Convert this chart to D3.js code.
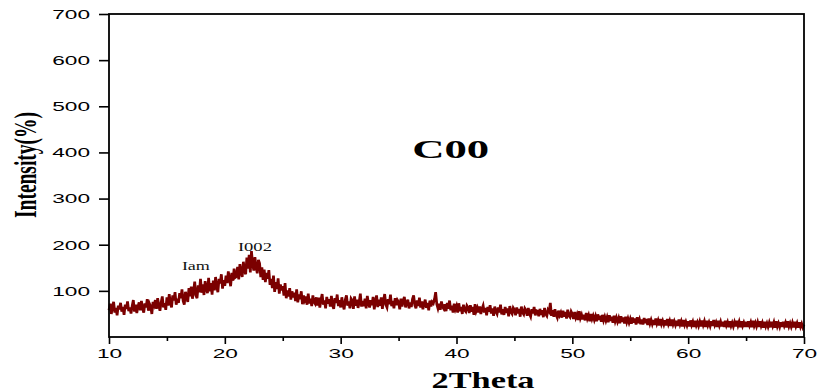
<!DOCTYPE html>
<html>
<head>
<meta charset="utf-8">
<script src="https://cdn.jsdelivr.net/npm/d3@7"></script>
<style>
  body { margin: 0; background: #fff; }
  svg { display: block; }
  .tick text { font-family: "Liberation Sans", Arial, sans-serif; font-size: 13.5px; fill: #000; }
</style>
</head>
<body>
<div id="chart"></div>
<script>
var svgWidth = 818;
var svgHeight = 392;

// plot frame in page pixels
var margin = { top: 14, right: 14, bottom: 55, left: 109 };
var width = svgWidth - margin.left - margin.right;
var height = svgHeight - margin.top - margin.bottom;

// sampling grid of the scan
var twoThetaStart = 10;
var twoThetaStep = 0.1;

// intensity, one row per degree (x.0 .. x.9)
var intensity = [
  58,72,50,66,76,53,63,47,68,60,
  74,55,65,48,70,61,77,56,64,51,
  67,80,55,70,52,66,75,58,78,62,
  53,73,64,82,57,72,66,50,76,69,
  80,61,84,68,57,75,88,64,73,59,
  86,68,93,74,64,90,79,97,70,83,
  74,95,84,103,78,70,98,88,76,106,
  88,109,83,99,120,90,84,112,97,126,
  96,114,91,121,105,95,128,99,117,92,
  122,101,130,109,97,126,116,136,105,123,
  111,133,117,142,126,110,139,122,148,129,
  131,152,125,158,141,130,163,143,136,172,
  148,178,140,186,158,144,173,151,138,167,
  160,130,151,124,146,119,139,126,145,113,
  126,106,133,98,119,104,127,94,114,101,
  110,90,117,84,101,88,106,81,99,86,
  96,78,103,75,92,82,99,71,90,80,
  88,70,94,73,83,67,90,76,72,86,
  68,85,64,81,93,70,79,62,87,72,
  82,66,89,69,61,84,74,92,67,80,
  64,86,69,60,81,90,68,77,62,83,
  79,61,88,68,81,63,76,94,66,78,
  67,83,62,89,73,64,80,69,87,60,
  77,90,65,81,68,86,61,79,93,70,
  64,82,71,92,67,78,62,84,69,80,
  76,60,83,66,79,87,64,74,81,62,
  75,65,82,90,69,62,79,67,85,64,
  77,60,72,81,63,74,58,79,66,76,
  73,82,97,71,62,72,59,77,65,61,
  71,56,74,61,79,58,68,53,72,60,
  67,53,73,56,65,50,70,58,55,68,
  64,52,69,55,65,48,71,56,63,53,
  66,50,61,68,53,63,47,65,55,69,
  51,62,46,66,55,50,64,53,70,49,
  60,48,65,52,62,45,67,54,50,63,
  59,47,64,51,61,44,66,53,49,62,
  58,46,63,50,44,60,51,65,47,57,
  56,45,61,48,58,43,63,50,46,59,
  55,74,46,58,44,60,48,42,57,47,
  53,42,57,44,54,40,59,46,43,55,
  50,39,54,42,49,37,56,41,48,38,
  48,36,52,40,47,34,50,39,46,37,
  45,34,49,37,46,33,48,36,44,35,
  43,32,47,35,44,31,46,34,42,33,
  41,30,45,33,42,29,44,32,40,31,
  39,29,42,31,40,27,43,30,38,28,
  38,27,41,30,39,26,40,29,37,28,
  37,26,40,29,36,25,39,28,35,27,
  36,25,39,28,35,24,38,27,34,26,
  35,24,38,27,34,23,37,26,33,25,
  34,23,36,26,33,22,35,25,32,24,
  33,23,36,26,34,22,35,25,32,24,
  34,24,37,26,32,22,35,25,33,23,
  33,22,35,25,32,21,34,24,31,23,
  32,23,35,25,33,21,34,24,31,22,
  33,22,34,25,32,21,35,24,31,23,
  32,22,34,24,31,20,33,23,30,22,
  31,21,33,24,32,20,34,23,30,22,
  32,22,33,24,31,21,34,23,30,22,
  31,21,33,23,30,20,32,22,29,21,
  27
];

var xTicks = [10, 20, 30, 40, 50, 60, 70];
var xMinorTicks = [15, 25, 35, 45, 55, 65];
var yTicks = [100, 200, 300, 400, 500, 600, 700];

// peak labels
var peakLabels = ["Iam", "I002"];
var peakX = [17.5, 22.6];
var peakY = [145, 186];

var sampleName = "C00";
var xTitle = "2Theta";
var yTitle = "Intensity(%)";

var svg = d3.select("#chart")
  .append("svg")
  .attr("width", svgWidth)
  .attr("height", svgHeight);

var chartGroup = svg.append("g")
  .attr("transform", `translate(${margin.left}, ${margin.top})`);

var xScale = d3.scaleLinear().domain([10, 70]).range([0, width]);
var yScale = d3.scaleLinear().domain([0, 700]).range([height, 0]);

// the image is stretched sideways, so widen the glyphs
function stretch(sel, perChar) {
  sel.attr("textLength", function() { return this.textContent.length * perChar; })
    .attr("lengthAdjust", "spacingAndGlyphs");
}

// scan line
var line = d3.line()
  .x((d, i) => xScale(twoThetaStart + i * twoThetaStep))
  .y(d => yScale(d));

chartGroup.append("path")
  .datum(intensity)
  .attr("d", line)
  .attr("fill", "none")
  .attr("stroke", "#7b0000")
  .attr("stroke-width", 2.7)
  .attr("stroke-linejoin", "miter");

// axes
var xAxis = chartGroup.append("g")
  .attr("transform", `translate(0, ${height})`)
  .call(d3.axisBottom(xScale).tickValues(xTicks).tickSize(7).tickSizeOuter(0).tickPadding(4));

chartGroup.append("g")
  .attr("transform", `translate(0, ${height})`)
  .call(d3.axisBottom(xScale).tickValues(xMinorTicks).tickSize(4).tickSizeOuter(0).tickFormat(""))
  .select(".domain").remove();

var yAxis = chartGroup.append("g")
  .call(d3.axisLeft(yScale).tickValues(yTicks).tickSize(10).tickSizeOuter(0).tickPadding(9));

chartGroup.selectAll(".domain").remove();
chartGroup.selectAll(".tick line").attr("stroke", "#000").attr("stroke-width", 1.6);
stretch(xAxis.selectAll(".tick text"), 12.6);
stretch(yAxis.selectAll(".tick text"), 12.6);

// frame
chartGroup.append("rect")
  .attr("width", width)
  .attr("height", height)
  .attr("fill", "none")
  .attr("stroke", "#000")
  .attr("stroke-width", 1.8);

// peak labels
chartGroup.selectAll(".peak")
  .data(peakLabels)
  .enter()
  .append("text")
  .attr("x", (d, i) => xScale(peakX[i]))
  .attr("y", (d, i) => yScale(peakY[i]))
  .attr("text-anchor", "middle")
  .style("font-family", "'Liberation Serif', 'Times New Roman', serif")
  .style("font-size", "11.5px")
  .attr("fill", "#111")
  .text(d => d)
  .each(function(d) {
    d3.select(this).attr("textLength", d.length === 3 ? 28 : 34).attr("lengthAdjust", "spacingAndGlyphs");
  });

// sample name
chartGroup.append("text")
  .attr("x", xScale(39.5))
  .attr("y", yScale(387))
  .attr("text-anchor", "middle")
  .style("font-family", "'Liberation Serif', 'Times New Roman', serif")
  .style("font-size", "26px")
  .style("font-weight", "bold")
  .attr("textLength", 77)
  .attr("lengthAdjust", "spacingAndGlyphs")
  .text(sampleName);

// axis titles
svg.append("text")
  .attr("x", 483)
  .attr("y", 388)
  .attr("text-anchor", "middle")
  .style("font-family", "'Liberation Serif', 'Times New Roman', serif")
  .style("font-size", "23px")
  .style("font-weight", "bold")
  .attr("textLength", 103)
  .attr("lengthAdjust", "spacingAndGlyphs")
  .text(xTitle);

svg.append("text")
  .attr("transform", "translate(36, 165) scale(1.6, 1) rotate(-90)")
  .attr("text-anchor", "middle")
  .style("font-family", "'Liberation Serif', 'Times New Roman', serif")
  .style("font-size", "20px")
  .style("font-weight", "bold")
  .attr("textLength", 106)
  .attr("lengthAdjust", "spacingAndGlyphs")
  .text(yTitle);
</script>
</body>
</html>
